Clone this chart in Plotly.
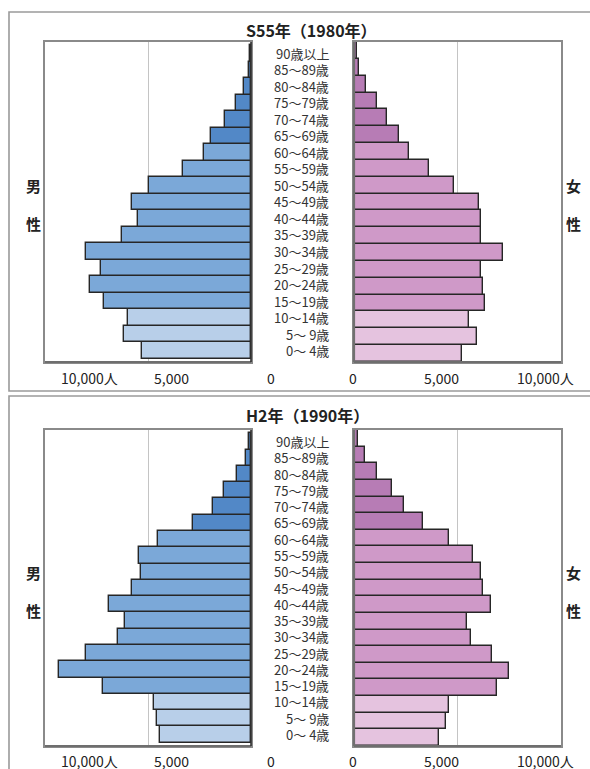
import plotly.graph_objects as go

W, H = 590, 769

ages = ["0～ 4歳", "5～ 9歳", "10～14歳", "15～19歳", "20～24歳", "25～29歳", "30～34歳",
        "35～39歳", "40～44歳", "45～49歳", "50～54歳", "55～59歳", "60～64歳", "65～69歳",
        "70～74歳", "75～79歳", "80～84歳", "85～89歳", "90歳以上"]

male_1980 = [5310, 6170, 5990, 7120, 7820, 7280, 8010, 6280, 5470, 5770, 4950, 3290, 2280, 1960,
             1260, 740, 330, 110, 60]
female_1980 = [5240, 5950, 5560, 6350, 6210, 6130, 7190, 6150, 6130, 6030, 4850, 3600, 2660, 2160,
               1580, 1100, 600, 260, 140]
male_1990 = [4430, 4580, 4710, 7200, 9300, 8030, 6440, 6100, 6890, 5790, 5360, 5450, 4530, 2800,
             1850, 1310, 670, 260, 80]
female_1990 = [4100, 4450, 4610, 6930, 7510, 6680, 5640, 5480, 6610, 6230, 6130, 5760, 4600, 3340,
               2400, 1820, 1110, 520, 210]

tick_labels_left = ["10,000人", "5,000", "0"]
tick_labels_right = ["0", "5,000", "10,000人"]

male_cols = ["#b8cfe9"] * 3 + ["#7ba8d8"] * 10 + ["#5288c7"] * 6
female_cols = ["#e5c3df"] * 3 + ["#cf99c8"] * 10 + ["#b77cb5"] * 6

FONT = "Noto Sans CJK JP"

def px(x):
    return x / W

def py(y):
    return 1 - y / H

fig = go.Figure()

panels = [
    dict(male=male_1980, female=female_1980, xa=("x", "x2"), ya=("y", "y2"),
         top=42, bot=362, title="S55年（1980年）", tx=311, ty=30, ticky=378,
         sexy=(185, 223), frame=(12, 391)),
    dict(male=male_1990, female=female_1990, xa=("x3", "x4"), ya=("y3", "y4"),
         top=430, bot=746, title="H2年（1990年）", tx=307, ty=415, ticky=761,
         sexy=(572, 610), frame=(396, 800)),
]

bar_line = dict(color="#262626", width=1.4)
annotations = []
shapes = []
layout_axes = {}

for i, p in enumerate(panels):
    xl, xr = p["xa"]
    yl, yr = p["ya"]
    fig.add_trace(go.Bar(y=ages, x=p["male"], orientation="h", xaxis=xl, yaxis=yl,
                         marker=dict(color=male_cols, line=bar_line), showlegend=False,
                         hoverinfo="x+y"))
    fig.add_trace(go.Bar(y=ages, x=p["female"], orientation="h", xaxis=xr, yaxis=yr,
                         marker=dict(color=female_cols, line=bar_line), showlegend=False,
                         hoverinfo="x+y"))
    ydom = [py(p["bot"]), py(p["top"])]
    axl = "xaxis" + ("" if xl == "x" else xl[1:])
    axr = "xaxis" + xr[1:]
    ayl = "yaxis" + ("" if yl == "y" else yl[1:])
    ayr = "yaxis" + yr[1:]
    common_x = dict(showgrid=True, gridcolor="#c4c4c4", gridwidth=1.2, tickvals=[5000],
                    showticklabels=False, ticks="", zeroline=False, showline=True,
                    linecolor="#8a8a8a", linewidth=1.6, mirror=True, fixedrange=True)
    layout_axes[axl] = dict(domain=[px(45), px(251)], range=[10000, 0], anchor=yl, **common_x)
    layout_axes[axr] = dict(domain=[px(354), px(561)], range=[0, 10000], anchor=yr, **common_x)
    common_y = dict(type="category", categoryorder="array", categoryarray=ages,
                    showticklabels=False, ticks="", showgrid=False, domain=ydom,
                    showline=True, linecolor="#8a8a8a", linewidth=1.6, mirror=True,
                    fixedrange=True)
    layout_axes[ayl] = dict(anchor=xl, **common_y)
    layout_axes[ayr] = dict(anchor=xr, **common_y)

    # age labels
    for a in ages:
        annotations.append(dict(x=px(331), xref="paper", y=a, yref=yl, text=a,
                                xanchor="right", yanchor="middle", showarrow=False,
                                font=dict(family=FONT, size=13, color="#333333")))
    # title
    annotations.append(dict(x=px(p["tx"]), y=py(p["ty"]), xref="paper", yref="paper",
                            text="<b>" + p["title"] + "</b>", showarrow=False,
                            xanchor="center", yanchor="middle",
                            font=dict(family=FONT, size=16, color="#222222")))
    # tick labels
    for t, x in zip(tick_labels_left, [89, 171, 271]):
        annotations.append(dict(x=px(x), y=py(p["ticky"]), xref="paper", yref="paper", text=t,
                                showarrow=False, xanchor="center", yanchor="middle",
                                font=dict(family=FONT, size=14, color="#222222")))
    for t, x in zip(tick_labels_right, [353, 441, 545]):
        annotations.append(dict(x=px(x), y=py(p["ticky"]), xref="paper", yref="paper", text=t,
                                showarrow=False, xanchor="center", yanchor="middle",
                                font=dict(family=FONT, size=14, color="#222222")))
    # sex labels
    for ch, yy in zip(["男", "性"], p["sexy"]):
        annotations.append(dict(x=px(33), y=py(yy), xref="paper", yref="paper",
                                text="<b>" + ch + "</b>", showarrow=False,
                                xanchor="center", yanchor="middle",
                                font=dict(family=FONT, size=15, color="#222222")))
    for ch, yy in zip(["女", "性"], p["sexy"]):
        annotations.append(dict(x=px(573), y=py(yy), xref="paper", yref="paper",
                                text="<b>" + ch + "</b>", showarrow=False,
                                xanchor="center", yanchor="middle",
                                font=dict(family=FONT, size=15, color="#222222")))
    # panel frame
    f0, f1 = p["frame"]
    shapes.append(dict(type="rect", xref="paper", yref="paper", x0=px(9), x1=px(620),
                       y0=py(f1), y1=py(f0), line=dict(color="#9a9a9a", width=1.6),
                       layer="below"))
    # bottom axis (darker)
    for x0, x1 in [(45, 251), (354, 561)]:
        shapes.append(dict(type="line", xref="paper", yref="paper", x0=px(x0), x1=px(x1),
                           y0=py(p["bot"]), y1=py(p["bot"]),
                           line=dict(color="#6e6e6e", width=2)))
    # zero lines
    shapes.append(dict(type="line", xref="paper", yref="paper", x0=px(251), x1=px(251),
                       y0=py(p["bot"]), y1=py(p["top"]), line=dict(color="#333333", width=1.6)))
    shapes.append(dict(type="line", xref="paper", yref="paper", x0=px(354), x1=px(354),
                       y0=py(p["bot"]), y1=py(p["top"]), line=dict(color="#707070", width=2.2)))

fig.update_layout(width=W, height=H, margin=dict(l=0, r=0, t=0, b=0, pad=0),
                  paper_bgcolor="white", plot_bgcolor="white", bargap=0,
                  annotations=annotations, shapes=shapes, showlegend=False,
                  font=dict(family=FONT), **layout_axes)

fig.write_html("out.html", config={"displayModeBar": False},
               post_script="document.body.style.margin='0';document.body.style.overflow='hidden';")
